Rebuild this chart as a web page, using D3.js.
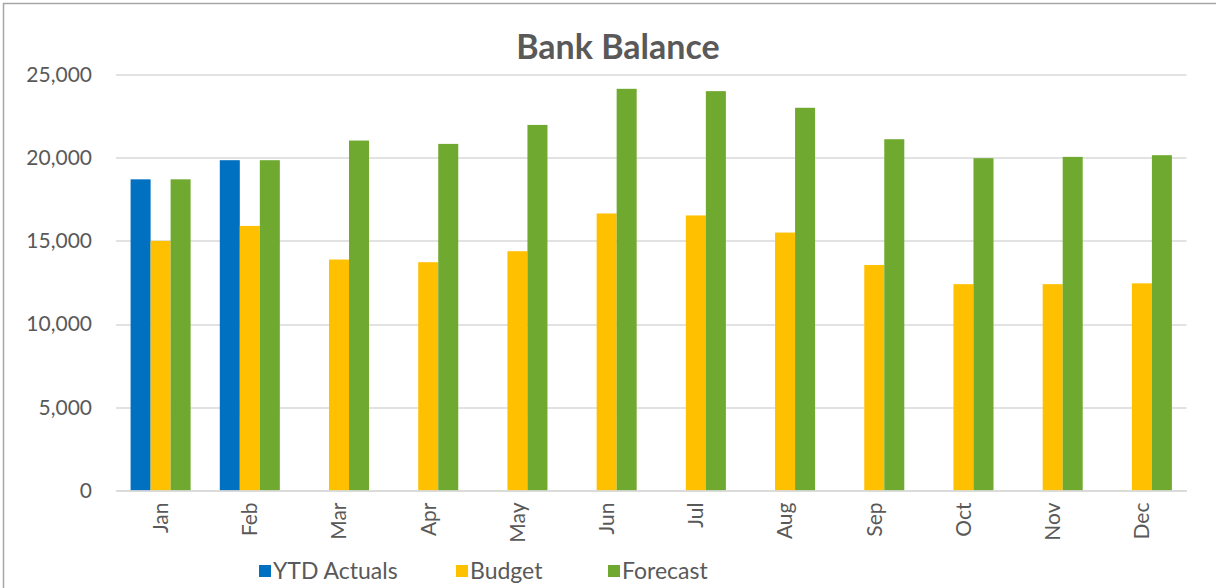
<!DOCTYPE html>
<html>
<head>
<meta charset="utf-8">
<script src="https://cdn.jsdelivr.net/npm/d3@7"></script>
<style>
  body { margin: 0; background: #fff; }
  svg { display: block; }
</style>
</head>
<body>
<div id="chart"></div>
<script>
"use strict"

const months = ["Jan", "Feb", "Mar", "Apr", "May", "Jun", "Jul", "Aug", "Sep", "Oct", "Nov", "Dec"];
const ytdActuals = [18700, 19850, null, null, null, null, null, null, null, null, null, null];
const budget = [15000, 15900, 13880, 13720, 14380, 16650, 16530, 15500, 13550, 12400, 12400, 12450];
const forecast = [18700, 19850, 21030, 20830, 21970, 24140, 24000, 23000, 21110, 19970, 20050, 20150];
const seriesNames = ["YTD Actuals", "Budget", "Forecast"];
const yTicks = [0, 5000, 10000, 15000, 20000, 25000];

const colorBySeries = new Map([
  ["YTD Actuals", "#0070c0"],
  ["Budget", "#ffc000"],
  ["Forecast", "#6fa92f"]
]);

const W = 1216, H = 588;
const margin = {top: 74.5, right: 29.5, bottom: 97.5, left: 116};
const width = W - margin.left - margin.right,
      height = H - margin.top - margin.bottom;
const font = "Lato, 'Open Sans', sans-serif";

const svg = d3.select("#chart")
  .append("svg")
  .attr("width", W)
  .attr("height", H);

// outer frame, cut off at right and bottom like the screenshot
svg.append("rect")
  .attr("x", 3.5)
  .attr("y", 3.5)
  .attr("width", W + 10)
  .attr("height", H + 10)
  .attr("fill", "none")
  .attr("stroke", "#a6a6a6")
  .attr("stroke-width", 1.5);

const g = svg.append("g")
  .attr("transform", "translate(" + margin.left + "," + margin.top + ")");

const rows = months.map(function(m, i) {
  return {month: m, values: [ytdActuals[i], budget[i], forecast[i]]};
});

const x0 = d3.scaleBand()
  .domain(months)
  .range([0, width])
  .paddingInner(0.327)
  .paddingOuter(0.1635);

const x1 = d3.scaleBand()
  .domain(seriesNames)
  .range([0, x0.bandwidth()]);

const y = d3.scaleLinear()
  .domain([0, 25000])
  .range([height, 0]);

// gridlines
g.append("g")
  .selectAll("line")
  .data(yTicks)
  .join("line")
  .attr("x1", 0)
  .attr("x2", width)
  .attr("y1", function(d) { return Math.round(y(d)) + 0.5; })
  .attr("y2", function(d) { return Math.round(y(d)) + 0.5; })
  .attr("stroke", "#d9d9d9")
  .attr("stroke-width", 1.5);

// y axis labels
const yAxis = g.append("g")
  .call(d3.axisLeft(y).tickValues(yTicks).tickFormat(d3.format(",")).tickSize(0).tickPadding(24));
yAxis.select(".domain").remove();
yAxis.selectAll("text")
  .style("font-family", font)
  .style("font-size", "21px")
  .attr("fill", "#595959");

// bars
const groups = g.append("g")
  .selectAll("g")
  .data(rows)
  .join("g")
  .attr("transform", function(d) { return "translate(" + x0(d.month) + ",0)"; });

groups.selectAll("rect")
  .data(function(d) {
    return d.values.map(function(v, i) { return {key: seriesNames[i], value: v}; })
      .filter(function(e) { return e.value !== null; });
  })
  .join("rect")
  .attr("x", function(d) { return x1(d.key); })
  .attr("y", function(d) { return y(d.value); })
  .attr("width", x1.bandwidth())
  .attr("height", function(d) { return height - y(d.value); })
  .attr("fill", function(d) { return colorBySeries.get(d.key); });

// x axis
const xAxis = g.append("g")
  .attr("transform", "translate(0," + height + ")")
  .call(d3.axisBottom(x0).tickSize(0).tickPadding(0));
xAxis.select(".domain")
  .attr("stroke", "#d9d9d9")
  .attr("stroke-width", 1.5);
xAxis.selectAll("text")
  .style("font-family", font)
  .style("font-size", "21px")
  .attr("fill", "#595959")
  .attr("text-anchor", "end")
  .attr("dy", "0.35em")
  .attr("transform", "translate(0,12) rotate(-90)");

// title
svg.append("text")
  .attr("x", 618)
  .attr("y", 59)
  .attr("text-anchor", "middle")
  .style("font-family", font)
  .style("font-weight", "700")
  .style("font-size", "34px")
  .attr("fill", "#595959")
  .text("Bank Balance");

// legend
const legendX = [259, 456, 608];
const legend = svg.append("g")
  .selectAll("g")
  .data(seriesNames)
  .join("g")
  .attr("transform", function(d, i) { return "translate(" + legendX[i] + ",565)"; });

legend.append("rect")
  .attr("width", 12)
  .attr("height", 12)
  .attr("fill", function(d) { return colorBySeries.get(d); });

legend.append("text")
  .attr("x", 14)
  .attr("y", 14)
  .style("font-family", font)
  .style("font-size", "23px")
  .attr("fill", "#595959")
  .text(function(d) { return d; });
</script>
</body>
</html>
